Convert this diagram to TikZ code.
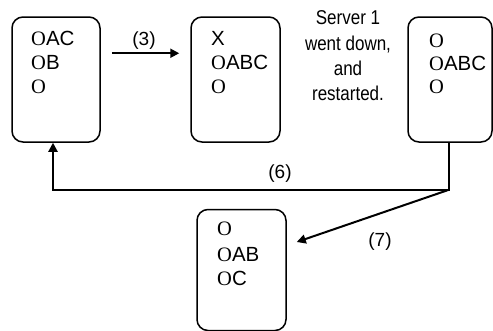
\documentclass[tikz,border=0pt]{standalone}
\usepackage{fontspec}
\setmainfont{Liberation Sans}
\newfontfamily\sr{Liberation Serif}
\newfontfamily\cond[FakeStretch=0.85]{Liberation Sans}
\usetikzlibrary{arrows.meta,calc}
\begin{document}
\begin{tikzpicture}[x=1pt,y=-1pt,
  box/.style={draw,line width=1.5pt,rounded corners=11pt,minimum width=#1,inner sep=0pt},
  ln/.style={anchor=base west,inner sep=0pt,font=\fontsize{20.5}{24}\selectfont},
  lab/.style={anchor=base,inner sep=0pt,font=\fontsize{19}{22}\selectfont},
  srv/.style={anchor=base,inner sep=0pt,font=\cond\fontsize{20}{24}\selectfont},
  arr/.style={line width=2pt,-{Triangle[length=9pt,width=9pt]}}]
\useasboundingbox (0,0) rectangle (493,330);
\node[box=88pt,minimum height=125pt] (b1) at (56,79.5) {};
\node[box=89pt,minimum height=125pt] (b2) at (235.5,79.5) {};
\node[box=84pt,minimum height=125pt] (b3) at (450,79.5) {};
\node[box=89pt,minimum height=121pt] (b4) at (241.5,270) {};
% box 1
\node[ln] (t11) at (31,45) {{\sr O}AC};
\node[ln] (t12) at (31,69) {{\sr O}B};
\node[ln] (t13) at (31,93) {{\sr O}};
% box 2
\node[ln] (t21) at (211,45) {X};
\node[ln] (t22) at (211,69) {{\sr O}ABC};
\node[ln] (t23) at (211,93) {{\sr O}};
% box 3
\node[ln] (t31) at (429,47) {{\sr O}};
\node[ln] (t32) at (429,70) {{\sr O}ABC};
\node[ln] (t33) at (429,93) {{\sr O}};
% box 4
\node[ln] (t41) at (217,235) {{\sr O}};
\node[ln] (t42) at (217,261) {{\sr O}AB};
\node[ln] (t43) at (217,285) {{\sr O}C};
% server text
\node[srv] (s1) at (348,24) {Server 1};
\node[srv] (s2) at (348,50) {went down,};
\node[srv] (s3) at (348,75) {and};
\node[srv] (s4) at (348,100) {restarted.};
% connectors
\draw[arr] ([shift={(11,37)}]b1.north east) -- ([shift={(-11,37)}]b2.north west);
\node[lab] (l3) at (144,45) {(3)};
\coordinate (j) at ($(b3.south)+(-1,47)$);
\coordinate (e) at ($(b1.south)+(-3,0)$);
\draw[arr] (b3.south -| j) -- (j) -| (e);
\node[lab] (l6) at (280,178) {(6)};
\draw[arr] (j) -- ([shift={(10,-28)}]b4.east);
\node[lab] (l7) at (380,246) {(7)};
\end{tikzpicture}
\end{document}
